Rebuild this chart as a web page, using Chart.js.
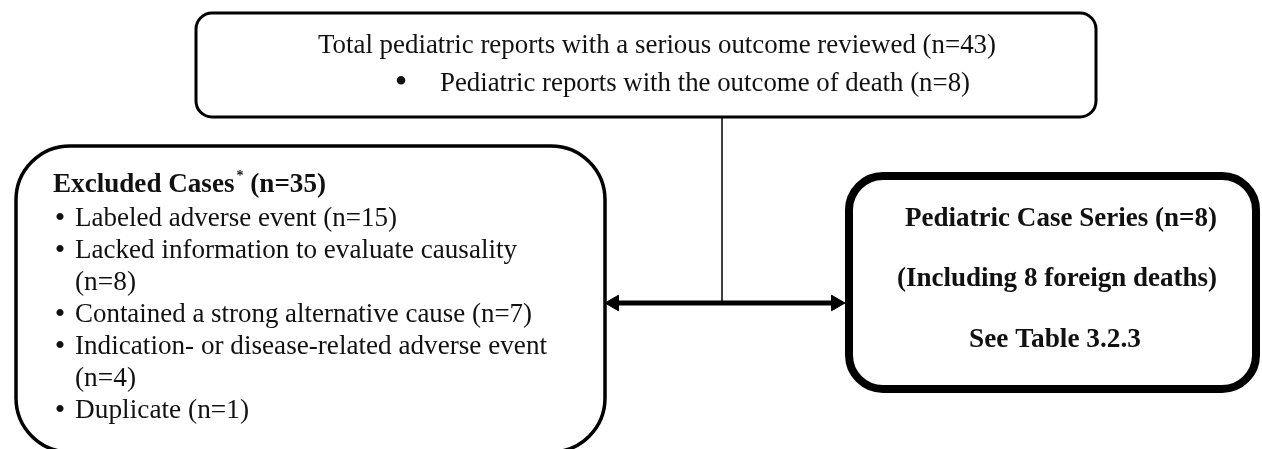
<!DOCTYPE html>
<html>
<head>
<meta charset="utf-8">
<script src="https://cdn.jsdelivr.net/npm/chart.js@4"></script>
<style>
  html, body { margin: 0; padding: 0; background: #fff; }
  canvas { display: block; }
</style>
</head>
<body>
<canvas id="flowChart" width="1262" height="449"></canvas>
<script>
// texts of the flow diagram
const topLines = [
  "Total pediatric reports with a serious outcome reviewed (n=43)",
  "Pediatric reports with the outcome of death (n=8)"
];
const excludedTitle = ["Excluded Cases", "*", " (n=35)"];
const excludedItems = [
  ["Labeled adverse event (n=15)"],
  ["Lacked information to evaluate causality", "(n=8)"],
  ["Contained a strong alternative cause (n=7)"],
  ["Indication- or disease-related adverse event", "(n=4)"],
  ["Duplicate (n=1)"]
];
const seriesLines = [
  "Pediatric Case Series (n=8)",
  "(Including 8 foreign deaths)",
  "See Table 3.2.3"
];

// connector end points (chart units = pixels of the figure)
const stemLine = [{ x: 722, y: 118 }, { x: 722, y: 303 }];
const arrowLine = [{ x: 614, y: 303 }, { x: 836, y: 303 }];

// layout of boxes and text runs
const boxes = {
  top: { x1: 196, y1: 13, x2: 1096, y2: 117, r: 16, lw: 3 },
  excluded: { x1: 16, y1: 146, x2: 605, y2: 452, r: 54, lw: 3.5 },
  series: { x1: 849, y1: 176, x2: 1256, y2: 389, r: 34, lw: 8 }
};
const topLayout = [
  { x: 318, y: 46, w: 678 },
  { x: 440, y: 84, w: 530, bullet: 401 }
];
const excludedLayout = {
  title: { x: 53, y: 185, w: 273 },
  bulletX: 60, textX: 75, firstY: 219, step: 32,
  widths: [[322], [442, 61], [457], [472, 61], [174]]
};
const seriesLayout = [
  { x: 905, y: 219, w: 312 },
  { x: 897, y: 279, w: 320 },
  { x: 969, y: 340, w: 172 }
];

const serif = '"Liberation Serif", "Times New Roman", serif';
const FS = 27;

// draw text from left x squeezed/stretched to a given width
function fitText(ctx, text, x, y, w) {
  const natural = ctx.measureText(text).width;
  ctx.save();
  ctx.translate(x, y);
  ctx.scale(w / natural, 1);
  ctx.fillText(text, 0, 0);
  ctx.restore();
}

function bullet(ctx, x, y, size) {
  const f = ctx.font;
  ctx.font = size + "px " + serif;
  ctx.textAlign = "center";
  ctx.fillText("\u2022", x, y);
  ctx.textAlign = "left";
  ctx.font = f;
}

const flowPlugin = {
  id: "flowBoxes",
  afterDatasetsDraw(chart) {
    const ctx = chart.ctx;
    const xs = chart.scales.x, ys = chart.scales.y;
    const px = v => xs.getPixelForValue(v);
    const py = v => ys.getPixelForValue(v);

    ctx.save();
    ctx.strokeStyle = "#000";
    Object.values(boxes).forEach(b => {
      ctx.beginPath();
      ctx.lineWidth = b.lw;
      ctx.fillStyle = "#fff";
      ctx.roundRect(px(b.x1), py(b.y1), px(b.x2) - px(b.x1), py(b.y2) - py(b.y1), b.r);
      ctx.fill();
      ctx.stroke();
    });

    ctx.fillStyle = "#111";
    ctx.textBaseline = "middle";
    ctx.textAlign = "left";

    // top box
    ctx.font = FS + "px " + serif;
    topLines.forEach((line, i) => {
      const l = topLayout[i];
      fitText(ctx, line, px(l.x), py(l.y), l.w);
      if (l.bullet) bullet(ctx, px(l.bullet), py(l.y), 36);
    });

    // excluded box title with superscript asterisk
    const t = excludedLayout.title;
    ctx.font = "bold " + FS + "px " + serif;
    const wA = ctx.measureText(excludedTitle[0]).width;
    const wC = ctx.measureText(excludedTitle[2]).width;
    ctx.font = "bold 14px " + serif;
    const wB = ctx.measureText(excludedTitle[1]).width + 2;
    const k = t.w / (wA + wB + wC);
    ctx.save();
    ctx.translate(px(t.x), py(t.y));
    ctx.scale(k, 1);
    ctx.font = "bold " + FS + "px " + serif;
    ctx.fillText(excludedTitle[0], 0, 0);
    ctx.fillText(excludedTitle[2], wA + wB, 0);
    ctx.font = "bold 14px " + serif;
    ctx.fillText(excludedTitle[1], wA + 2, -9);
    ctx.restore();

    // excluded items
    ctx.font = FS + "px " + serif;
    let row = 0;
    excludedItems.forEach((item, j) => {
      item.forEach((line, i) => {
        const y = py(excludedLayout.firstY + row * excludedLayout.step);
        if (i === 0) bullet(ctx, px(excludedLayout.bulletX), y, 30);
        fitText(ctx, line, px(excludedLayout.textX), y, excludedLayout.widths[j][i]);
        row++;
      });
    });

    // case series box
    ctx.font = "bold " + FS + "px " + serif;
    seriesLines.forEach((line, i) => {
      const l = seriesLayout[i];
      fitText(ctx, line, px(l.x), py(l.y), l.w);
    });
    ctx.restore();
  }
};

new Chart(document.getElementById("flowChart"), {
  type: "scatter",
  data: {
    datasets: [
      {
        label: "stem",
        data: stemLine,
        showLine: true,
        borderColor: "#000",
        borderWidth: 1.5,
        pointRadius: 0
      },
      {
        label: "arrow",
        data: arrowLine,
        showLine: true,
        borderColor: "#000",
        backgroundColor: "#000",
        borderWidth: 5,
        pointStyle: "triangle",
        pointRadius: 9,
        pointRotation: [-90, 90],
        pointBorderWidth: 1
      }
    ]
  },
  options: {
    responsive: false,
    devicePixelRatio: 1,
    animation: false,
    layout: { padding: 0, autoPadding: false },
    plugins: {
      legend: { display: false },
      tooltip: { enabled: false }
    },
    scales: {
      x: { type: "linear", min: 0, max: 1262, display: false },
      y: { type: "linear", min: 0, max: 449, reverse: true, display: false }
    }
  },
  plugins: [flowPlugin]
});
</script>
</body>
</html>
